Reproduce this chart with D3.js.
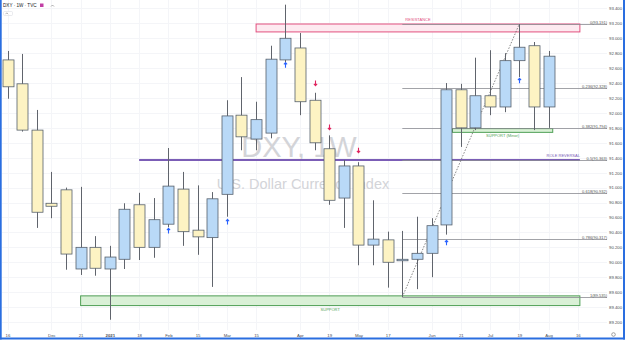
<!DOCTYPE html>
<html>
<head>
<meta charset="utf-8">
<script src="https://cdn.jsdelivr.net/npm/d3@7"></script>
<style>
  body { margin: 0; background: #fff; }
  svg { display: block; font-family: "Liberation Sans", Arial, sans-serif; }
</style>
</head>
<body>
<div id="chart"></div>
<script>
// Weekly candles
const weeks = ["2020-11-16","2020-11-23","2020-11-30","2020-12-07","2020-12-14","2020-12-21","2020-12-28",
  "2021-01-04","2021-01-11","2021-01-18","2021-01-25","2021-02-01","2021-02-08","2021-02-15","2021-02-22",
  "2021-03-01","2021-03-08","2021-03-15","2021-03-22","2021-03-29","2021-04-05","2021-04-12","2021-04-19",
  "2021-04-26","2021-05-03","2021-05-10","2021-05-17","2021-05-24","2021-05-31","2021-06-07","2021-06-14",
  "2021-06-21","2021-06-28","2021-07-05","2021-07-12","2021-07-19","2021-07-26","2021-08-02"];
const opens  = [92.71, 92.39, 91.77, 90.79, 90.97, 89.91, 90.20, 89.91, 90.04, 90.77, 90.20, 90.51, 90.98, 90.43, 90.33,
  90.91, 91.97, 91.65, 91.73, 92.71, 92.87, 92.17, 91.52, 90.86, 91.29, 90.23, 90.30, 90.02, 90.04, 90.12, 90.50,
  92.31, 91.80, 92.23, 92.08, 92.70, 92.90, 92.08];
const highs  = [92.83, 92.79, 92.04, 91.21, 91.00, 91.01, 90.35, 90.22, 90.79, 90.93, 90.86, 91.53, 91.21, 91.03, 90.94,
  92.17, 92.48, 92.15, 92.90, 93.45, 93.07, 92.27, 91.70, 91.37, 91.34, 90.83, 90.41, 90.42, 90.61, 90.59, 92.40,
  92.39, 92.74, 92.84, 92.80, 93.19, 92.95, 92.83];
const lows   = [92.19, 91.75, 90.46, 90.59, 89.90, 89.83, 89.82, 89.23, 89.91, 90.03, 90.06, 90.47, 90.22, 90.10, 89.67,
  90.61, 91.50, 91.50, 91.66, 92.68, 91.97, 91.50, 90.77, 90.46, 89.96, 89.96, 89.66, 89.535, 89.64, 89.80, 90.37,
  91.545, 91.77, 91.97, 92.01, 92.48, 91.77, 91.80];
const closes = [92.35, 91.77, 90.67, 90.75, 90.11, 90.20, 89.92, 90.07, 90.71, 90.20, 90.57, 91.02, 90.41, 90.34, 90.85,
  91.96, 91.68, 91.91, 92.72, 93.00, 92.15, 91.60, 90.83, 91.29, 90.23, 90.31, 90.00, 90.04, 90.12, 90.49, 92.31,
  91.80, 92.23, 92.08, 92.70, 92.88, 92.08, 92.76];

// Axis ticks
const priceTicks = [89.2, 89.4, 89.6, 89.8, 90.0, 90.2, 90.4, 90.6, 90.8, 91.0, 91.2, 91.4, 91.6, 91.8,
  92.0, 92.2, 92.4, 92.6, 92.8, 93.0, 93.2, 93.4];
const timeTickDates = ["2020-11-16","2020-12-07","2020-12-21","2021-01-04","2021-01-18","2021-02-01","2021-02-15",
  "2021-03-01","2021-03-15","2021-04-05","2021-04-19","2021-05-03","2021-05-17","2021-06-07","2021-06-21",
  "2021-07-05","2021-07-19","2021-08-02","2021-08-16"];
const timeTickLabels = ["16","Dec","21","2021","18","Feb","15","Mar","15","Apr","19","May","17","Jun","21",
  "Jul","19","Aug","16"];

// Drawings: [start week, end week, top price, bottom price]
const resistanceZone = ["2021-03-15", "2021-08-17", 93.191, 93.085];
const supportZone = ["2020-12-21", "2021-08-17", 89.55, 89.42];
const minorSupportZone = ["2021-06-17", "2021-08-04", 91.79, 91.74];
const roleReversal = ["2021-01-18", "2021-08-17", 91.37];

// Fib retracement from the May low to the July high
const fibLow = ["2021-05-24", 89.535];
const fibHigh = ["2021-07-19", 93.191];
const fibEndWeek = "2021-08-30";
const fibLevels = [0, 0.236, 0.382, 0.5, 0.618, 0.786, 1];

// Arrow markers
const upArrowWeeks = ["2021-02-01", "2021-03-01", "2021-03-29", "2021-06-14", "2021-07-19"];
const upArrowPrices = [90.42, 90.54, 92.64, 90.26, 92.43];
const downArrowWeeks = ["2021-04-12", "2021-04-19", "2021-05-03"];
const downArrowPrices = [92.40, 91.81, 91.50];

const width = 625, height = 342;
const plotRight = 607, plotBottom = 330;
const parseDate = d3.utcParse("%Y-%m-%d");

const svg = d3.select("#chart")
  .append("svg")
  .attr("width", width)
  .attr("height", height);

const x = d3.scaleUtc()
  .domain([parseDate("2020-11-16"), parseDate("2021-08-16")])
  .range([7.5, 577.8]);

const y = d3.scaleLinear()
  .domain([89.2, 93.4])
  .range([322, 8.4]);

const candles = weeks.map((w, i) => ({
  date: parseDate(w), open: opens[i], high: highs[i], low: lows[i], close: closes[i]
}));

// grid
svg.append("g")
  .selectAll("line")
  .data(priceTicks)
  .enter()
  .append("line")
  .attr("x1", 2).attr("x2", plotRight)
  .attr("y1", d => Math.round(y(d)) + 0.5).attr("y2", d => Math.round(y(d)) + 0.5)
  .attr("stroke", "#f4f5f8");

svg.append("g")
  .selectAll("line")
  .data(timeTickDates)
  .enter()
  .append("line")
  .attr("x1", d => Math.round(x(parseDate(d))) + 0.5).attr("x2", d => Math.round(x(parseDate(d))) + 0.5)
  .attr("y1", 0).attr("y2", plotBottom)
  .attr("stroke", "#f4f5f8");

// watermark
svg.append("text")
  .attr("x", 299).attr("y", 157)
  .attr("text-anchor", "middle")
  .attr("font-size", 29)
  .attr("fill", "#d3d4d8")
  .text("DXY, 1W");
svg.append("text")
  .attr("x", 303).attr("y", 189)
  .attr("text-anchor", "middle")
  .attr("font-size", 14.5)
  .attr("fill", "#d3d4d8")
  .text("U.S. Dollar Currency Index");

// zones
function zone(z, fill, stroke, label, labelAbove) {
  const x0 = x(parseDate(z[0])), x1 = x(parseDate(z[1]));
  const y0 = y(z[2]), y1 = y(z[3]);
  svg.append("rect")
    .attr("x", x0).attr("y", y0)
    .attr("width", x1 - x0).attr("height", y1 - y0)
    .attr("fill", fill)
    .attr("stroke", stroke)
    .attr("stroke-width", 1);
  svg.append("text")
    .attr("x", (x0 + x1) / 2)
    .attr("y", labelAbove ? y0 - 3 : y1 + 5)
    .attr("text-anchor", "middle")
    .attr("font-size", 4)
    .attr("fill", stroke)
    .text(label);
}
zone(resistanceZone, "#fdeaf0", "#e2507f", "RESISTANCE", true);
zone(supportZone, "#d9f0d6", "#4f9f55", "SUPPORT", false);
zone(minorSupportZone, "#d9f0d6", "#4f9f55", "SUPPORT (Minor)", false);

// role reversal line
svg.append("line")
  .attr("x1", x(parseDate(roleReversal[0]))).attr("x2", x(parseDate(roleReversal[1])))
  .attr("y1", y(roleReversal[2])).attr("y2", y(roleReversal[2]))
  .attr("stroke", "#7b5db6")
  .attr("stroke-width", 2);
svg.append("text")
  .attr("x", x(parseDate(roleReversal[1]))).attr("y", y(roleReversal[2]) - 3)
  .attr("text-anchor", "end")
  .attr("font-size", 4)
  .attr("fill", "#7b5db6")
  .text("ROLE REVERSAL");

// fib retracement
const fibX0 = x(parseDate(fibLow[0])), fibX1 = x(parseDate(fibEndWeek));
const fibRange = fibHigh[1] - fibLow[1];
fibLevels.forEach(lvl => {
  const price = fibHigh[1] - lvl * fibRange;
  const py = Math.round(y(price)) + 0.5;
  svg.append("line")
    .attr("x1", fibX0).attr("x2", fibX1)
    .attr("y1", py).attr("y2", py)
    .attr("stroke", "#8a8c92")
    .attr("stroke-width", 0.8);
  svg.append("text")
    .attr("x", fibX1).attr("y", py - 1)
    .attr("text-anchor", "end")
    .attr("font-size", 4)
    .attr("fill", "#555")
    .text(`${lvl}(${price.toFixed(3)})`);
});
svg.append("line")
  .attr("x1", fibX0).attr("y1", y(fibLow[1]))
  .attr("x2", x(parseDate(fibHigh[0]))).attr("y2", y(fibHigh[1]))
  .attr("stroke", "#666")
  .attr("stroke-width", 0.8)
  .attr("stroke-dasharray", "1.5,1.5");

// candles
const bodyW = 11;
const candle = svg.append("g")
  .selectAll("g")
  .data(candles)
  .enter()
  .append("g");

candle.append("line")
  .attr("x1", d => Math.round(x(d.date)) + 0.5).attr("x2", d => Math.round(x(d.date)) + 0.5)
  .attr("y1", d => y(d.high)).attr("y2", d => y(d.low))
  .attr("stroke", "#60646c")
  .attr("stroke-width", 1);

candle.append("rect")
  .attr("x", d => Math.round(x(d.date)) + 0.5 - bodyW / 2)
  .attr("y", d => y(Math.max(d.open, d.close)))
  .attr("width", bodyW)
  .attr("height", d => Math.max(1, Math.abs(y(d.open) - y(d.close))))
  .attr("fill", d => d.close >= d.open ? "#b9d9f7" : "#fdf3c3")
  .attr("stroke", "#56606c")
  .attr("stroke-width", 0.8);

// arrows
function arrow(week, price, up, color) {
  const ax = Math.round(x(parseDate(week))) + 0.5;
  const ay = y(price);
  const tip = up ? ay - 2.5 : ay + 2.5;
  const tail = up ? ay + 2.5 : ay - 2.5;
  const back = up ? tip + 1.8 : tip - 1.8;
  svg.append("path")
    .attr("d", `M${ax},${tail} L${ax},${tip} M${ax - 1.6},${back} L${ax},${tip} L${ax + 1.6},${back}`)
    .attr("fill", "none")
    .attr("stroke", color)
    .attr("stroke-width", 1.1);
}
upArrowWeeks.forEach((w, i) => arrow(w, upArrowPrices[i], true, "#2962ff"));
downArrowWeeks.forEach((w, i) => arrow(w, downArrowPrices[i], false, "#e0245e"));

// price axis
const yAxis = svg.append("g")
  .attr("transform", `translate(${plotRight + 2}, 0)`)
  .call(d3.axisRight(y).tickValues(priceTicks).tickFormat(d => d.toFixed(3)).tickSize(0).tickPadding(0));
yAxis.select(".domain").remove();
yAxis.selectAll("text")
  .attr("font-size", 4.3)
  .attr("font-family", "Liberation Sans, Arial, sans-serif")
  .attr("fill", "#4a4d55");

// time axis
const xAxis = svg.append("g")
  .attr("transform", `translate(0, ${plotBottom})`)
  .call(d3.axisBottom(x)
    .tickValues(timeTickDates.map(parseDate))
    .tickFormat((d, i) => timeTickLabels[i])
    .tickSize(0).tickPadding(3.5));
xAxis.select(".domain").remove();
xAxis.selectAll("text")
  .attr("font-size", 4.3)
  .attr("font-family", "Liberation Sans, Arial, sans-serif")
  .attr("fill", "#4a4d55")
  .attr("font-weight", (d, i) => timeTickLabels[i] === "2021" ? "bold" : null);

// header legend
svg.append("text")
  .attr("x", 3).attr("y", 7)
  .attr("font-size", 4.6)
  .attr("fill", "#131722")
  .text("DXY · 1W · TVC");
svg.append("rect")
  .attr("x", 40).attr("y", 3.5).attr("width", 3.5).attr("height", 3.5)
  .attr("fill", "#c23fa5");
svg.append("path")
  .attr("d", "M51,6.5 L52.5,5 L54,6.5")
  .attr("fill", "none").attr("stroke", "#777").attr("stroke-width", 0.6);
svg.append("rect")
  .attr("x", 3.5).attr("y", 11.5).attr("width", 9).attr("height", 4).attr("rx", 1)
  .attr("fill", "#fff").attr("stroke", "#d5d7dc").attr("stroke-width", 0.5);
svg.append("path")
  .attr("d", "M5.5,14.2 L6.8,12.8 L8.1,14.2")
  .attr("fill", "none").attr("stroke", "#666").attr("stroke-width", 0.5);

// settings icon, bottom right
svg.append("circle")
  .attr("cx", 613.5).attr("cy", 334.5).attr("r", 1.8)
  .attr("fill", "none").attr("stroke", "#666").attr("stroke-width", 0.6);

// screenshot frame
svg.append("rect").attr("x", 0).attr("y", 0).attr("width", 1.7).attr("height", 339.5).attr("fill", "#2a6ee0");
svg.append("rect").attr("x", 623).attr("y", 0).attr("width", 2).attr("height", 339.5).attr("fill", "#2a6ee0");
svg.append("rect").attr("x", 0).attr("y", 337.5).attr("width", 625).attr("height", 2).attr("fill", "#2a6ee0");
</script>
</body>
</html>
